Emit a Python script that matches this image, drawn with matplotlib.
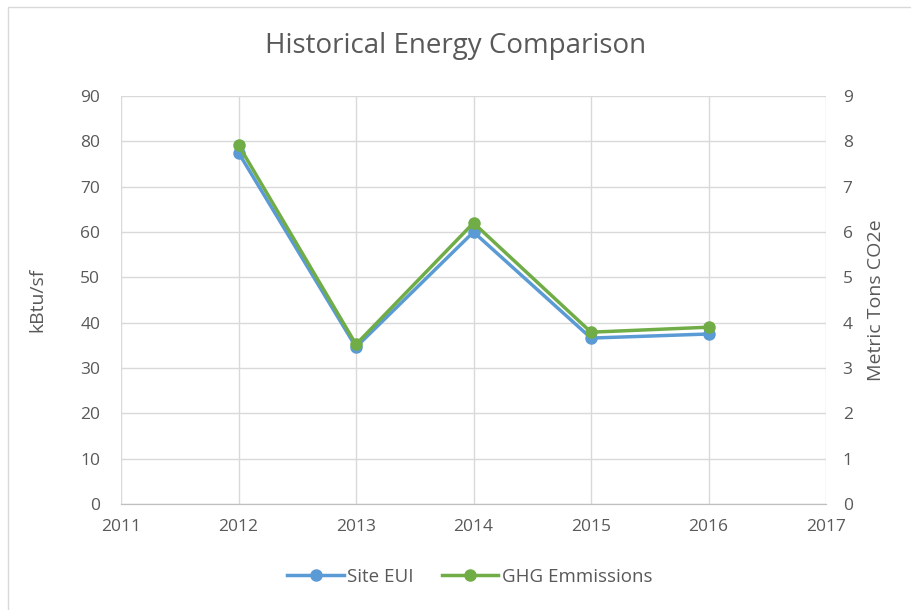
import matplotlib
matplotlib.use("Agg")
import matplotlib.pyplot as plt
from matplotlib.patches import Rectangle

years = [2012, 2013, 2014, 2015, 2016]
site_eui = [77.5, 34.6, 60.0, 36.6, 37.5]
ghg = [7.92, 3.52, 6.2, 3.79, 3.9]
left_ticks = list(range(0, 91, 10))
right_ticks = list(range(0, 10))
x_ticks = list(range(2011, 2018))

plt.rcParams['font.family'] = ['Open Sans', 'DejaVu Sans']
txt = '#595959'
grid = '#D9D9D9'
blue = '#5B9BD5'
green = '#70AD47'

fig = plt.figure(figsize=(9.11, 6.10), dpi=100)
fig.patches.append(Rectangle((8/911, -0.05), 1.0, 1-7/610+0.05, transform=fig.transFigure,
                             fill=False, edgecolor='#D9D9D9', linewidth=1))
ax = fig.add_axes([121/911, 1-504/610, (826-121)/911, (504-96)/610])
ax2 = ax.twinx()

ax.set_xlim(2011, 2017)
ax.set_ylim(0, 90)
ax2.set_ylim(0, 9)
ax.set_xticks(x_ticks)
ax.set_yticks(left_ticks)
ax2.set_yticks(right_ticks)
ax.grid(True, color=grid, linewidth=1)
ax.set_axisbelow(True)
for a in (ax, ax2):
    for s in ['top', 'left', 'right']:
        a.spines[s].set_visible(False)
    a.spines['bottom'].set_color('#BFBFBF')
    a.tick_params(length=0, labelsize=12.5, labelcolor=txt)
ax.tick_params(axis='x', pad=11)
ax.tick_params(axis='y', pad=15)
ax2.tick_params(axis='y', pad=12)

l1, = ax.plot(years, site_eui, color=blue, linewidth=2.5, marker='o', markersize=8, label='Site EUI')
l2, = ax2.plot(years, ghg, color=green, linewidth=2.5, marker='o', markersize=8, label='GHG Emmissions')

ax.set_ylabel('kBtu/sf', fontsize=14, color=txt, labelpad=24)
ax2.set_ylabel('Metric Tons CO2e', fontsize=14, color=txt, labelpad=10)
fig.text(0.5, 1-46/610, 'Historical Energy Comparison', ha='center', va='center', fontsize=20, color=txt)

fig.legend(handles=[l1, l2], loc='center', bbox_to_anchor=(470/911, 1-577/610), ncol=2,
           frameon=False, fontsize=13.5, labelcolor=txt, handlelength=3, columnspacing=1.5, handletextpad=0.2)

fig.savefig('out.png', dpi=100)
